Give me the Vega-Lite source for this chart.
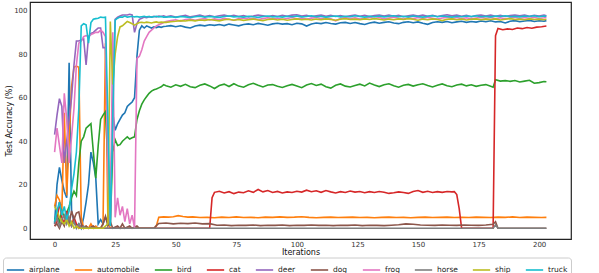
{
"$schema":"https://vega.github.io/schema/vega-lite/v6.json",
"width":541,"height":237,
"autosize":{"type":"none"},
"padding":{"left":30,"top":2,"right":28,"bottom":34},
"config":{"font":"DejaVu Sans","view":{"stroke":"#222222","strokeWidth":1.2},
"axis":{"domain":false,"ticks":false,"grid":false,"labelFontSize":7,"labelColor":"#333333","titleFontSize":8,"titleFontWeight":"normal","titleColor":"#111111"}},
"data":{"values":[
{"c":"airplane","i":0,"a":2},{"c":"airplane","i":1,"a":20},{"c":"airplane","i":2,"a":28},{"c":"airplane","i":3,"a":22},{"c":"airplane","i":4,"a":17},{"c":"airplane","i":5,"a":14},{"c":"airplane","i":6,"a":76},{"c":"airplane","i":7,"a":8},{"c":"airplane","i":8,"a":3},{"c":"airplane","i":9,"a":1},{"c":"airplane","i":10,"a":2},{"c":"airplane","i":11,"a":0},{"c":"airplane","i":12,"a":5},{"c":"airplane","i":13,"a":12},{"c":"airplane","i":14,"a":20},{"c":"airplane","i":15,"a":35},{"c":"airplane","i":16,"a":30},{"c":"airplane","i":17,"a":23},{"c":"airplane","i":18,"a":2},{"c":"airplane","i":19,"a":4},{"c":"airplane","i":20,"a":2},{"c":"airplane","i":21,"a":5},{"c":"airplane","i":22,"a":3},{"c":"airplane","i":23,"a":10},{"c":"airplane","i":24,"a":53},{"c":"airplane","i":25,"a":45},{"c":"airplane","i":26,"a":48},{"c":"airplane","i":27,"a":50},{"c":"airplane","i":28,"a":52},{"c":"airplane","i":29,"a":53},{"c":"airplane","i":30,"a":56},{"c":"airplane","i":31,"a":57},{"c":"airplane","i":32,"a":58},{"c":"airplane","i":33,"a":60},{"c":"airplane","i":34,"a":79},{"c":"airplane","i":35,"a":91},{"c":"airplane","i":36,"a":93},{"c":"airplane","i":37,"a":92},{"c":"airplane","i":38,"a":93},{"c":"airplane","i":39,"a":92.5},{"c":"airplane","i":40,"a":92},{"c":"airplane","i":41,"a":92.5},{"c":"airplane","i":42,"a":92.2},{"c":"airplane","i":43,"a":92.6},{"c":"airplane","i":44,"a":92.3},{"c":"airplane","i":45,"a":92.7},
{"c":"airplane","i":46,"a":92.8},{"c":"airplane","i":48,"a":93.1},{"c":"airplane","i":50,"a":92.6},{"c":"airplane","i":52,"a":93.0},{"c":"airplane","i":54,"a":92.4},{"c":"airplane","i":56,"a":92.0},{"c":"airplane","i":58,"a":92.9},{"c":"airplane","i":60,"a":93.3},{"c":"airplane","i":62,"a":93.0},{"c":"airplane","i":64,"a":93.5},{"c":"airplane","i":66,"a":93.2},{"c":"airplane","i":68,"a":93.6},{"c":"airplane","i":70,"a":93.1},{"c":"airplane","i":72,"a":93.8},{"c":"airplane","i":74,"a":93.4},{"c":"airplane","i":76,"a":93.0},{"c":"airplane","i":78,"a":93.6},{"c":"airplane","i":80,"a":93.9},{"c":"airplane","i":82,"a":93.5},{"c":"airplane","i":84,"a":94.1},{"c":"airplane","i":86,"a":93.7},{"c":"airplane","i":88,"a":93.3},{"c":"airplane","i":90,"a":93.9},{"c":"airplane","i":92,"a":94.2},{"c":"airplane","i":94,"a":93.8},{"c":"airplane","i":96,"a":94.0},{"c":"airplane","i":98,"a":93.5},{"c":"airplane","i":100,"a":94.2},{"c":"airplane","i":102,"a":93.9},{"c":"airplane","i":104,"a":92.9},{"c":"airplane","i":106,"a":93.8},{"c":"airplane","i":108,"a":94.3},{"c":"airplane","i":110,"a":94.0},{"c":"airplane","i":112,"a":94.5},{"c":"airplane","i":114,"a":94.1},{"c":"airplane","i":116,"a":93.8},{"c":"airplane","i":118,"a":94.4},{"c":"airplane","i":120,"a":94.6},{"c":"airplane","i":122,"a":94.1},{"c":"airplane","i":124,"a":94.5},{"c":"airplane","i":126,"a":94.0},{"c":"airplane","i":128,"a":93.6},{"c":"airplane","i":130,"a":94.3},{"c":"airplane","i":132,"a":94.7},{"c":"airplane","i":134,"a":94.2},{"c":"airplane","i":136,"a":94.6},{"c":"airplane","i":138,"a":94.9},{"c":"airplane","i":140,"a":94.3},{"c":"airplane","i":142,"a":94.0},{"c":"airplane","i":144,"a":94.6},{"c":"airplane","i":146,"a":94.9},{"c":"airplane","i":148,"a":94.4},{"c":"airplane","i":150,"a":94.8},{"c":"airplane","i":152,"a":94.2},{"c":"airplane","i":154,"a":93.7},{"c":"airplane","i":156,"a":94.5},{"c":"airplane","i":158,"a":94.9},{"c":"airplane","i":160,"a":94.6},{"c":"airplane","i":162,"a":95.0},{"c":"airplane","i":164,"a":94.4},{"c":"airplane","i":166,"a":94.8},{"c":"airplane","i":168,"a":95.1},{"c":"airplane","i":170,"a":94.6},{"c":"airplane","i":172,"a":95.0},{"c":"airplane","i":174,"a":94.7},{"c":"airplane","i":176,"a":95.2},{"c":"airplane","i":178,"a":94.9},{"c":"airplane","i":180,"a":95.3},{"c":"airplane","i":182,"a":94.8},{"c":"airplane","i":184,"a":95.0},{"c":"airplane","i":186,"a":94.3},{"c":"airplane","i":188,"a":95.1},{"c":"airplane","i":190,"a":95.4},{"c":"airplane","i":192,"a":94.9},{"c":"airplane","i":194,"a":95.2},{"c":"airplane","i":196,"a":95.5},{"c":"airplane","i":198,"a":95.0},{"c":"airplane","i":200,"a":95.3},{"c":"airplane","i":202,"a":95.1},{"c":"airplane","i":203,"a":95.4},
{"c":"automobile","i":0,"a":10},{"c":"automobile","i":1,"a":15},{"c":"automobile","i":2,"a":13},{"c":"automobile","i":3,"a":8},{"c":"automobile","i":4,"a":53},{"c":"automobile","i":5,"a":15},{"c":"automobile","i":6,"a":40},{"c":"automobile","i":7,"a":65},{"c":"automobile","i":8,"a":74},{"c":"automobile","i":9,"a":74.5},{"c":"automobile","i":10,"a":74},{"c":"automobile","i":11,"a":5},{"c":"automobile","i":12,"a":0},{"c":"automobile","i":13,"a":1},{"c":"automobile","i":14,"a":0},{"c":"automobile","i":15,"a":2},{"c":"automobile","i":16,"a":0},{"c":"automobile","i":17,"a":1},{"c":"automobile","i":18,"a":0},{"c":"automobile","i":19,"a":0},{"c":"automobile","i":20,"a":2},{"c":"automobile","i":21,"a":85},{"c":"automobile","i":22,"a":3},{"c":"automobile","i":23,"a":0},{"c":"automobile","i":41,"a":0},
{"c":"automobile","i":42,"a":1},{"c":"automobile","i":43,"a":5.0},{"c":"automobile","i":45,"a":5.2},{"c":"automobile","i":47,"a":5.1},{"c":"automobile","i":49,"a":5.3},{"c":"automobile","i":51,"a":5.8},{"c":"automobile","i":53,"a":5.4},{"c":"automobile","i":55,"a":5.1},{"c":"automobile","i":57,"a":5.2},{"c":"automobile","i":60,"a":4.9},{"c":"automobile","i":63,"a":5.0},{"c":"automobile","i":66,"a":4.8},{"c":"automobile","i":69,"a":5.1},{"c":"automobile","i":72,"a":4.9},{"c":"automobile","i":75,"a":5.2},{"c":"automobile","i":78,"a":4.9},{"c":"automobile","i":81,"a":5.0},{"c":"automobile","i":84,"a":4.8},{"c":"automobile","i":87,"a":5.1},{"c":"automobile","i":90,"a":5.0},{"c":"automobile","i":93,"a":5.2},{"c":"automobile","i":96,"a":5.0},{"c":"automobile","i":99,"a":5.1},{"c":"automobile","i":102,"a":5.3},{"c":"automobile","i":105,"a":5.0},{"c":"automobile","i":108,"a":4.8},{"c":"automobile","i":111,"a":5.0},{"c":"automobile","i":114,"a":5.1},{"c":"automobile","i":117,"a":4.9},{"c":"automobile","i":120,"a":5.0},{"c":"automobile","i":123,"a":5.1},{"c":"automobile","i":126,"a":4.9},{"c":"automobile","i":129,"a":5.0},{"c":"automobile","i":132,"a":4.8},{"c":"automobile","i":135,"a":5.0},{"c":"automobile","i":138,"a":5.1},{"c":"automobile","i":141,"a":4.9},{"c":"automobile","i":144,"a":5.0},{"c":"automobile","i":147,"a":4.8},{"c":"automobile","i":150,"a":5.0},{"c":"automobile","i":153,"a":5.1},{"c":"automobile","i":156,"a":4.9},{"c":"automobile","i":159,"a":5.0},{"c":"automobile","i":162,"a":5.1},{"c":"automobile","i":165,"a":4.9},{"c":"automobile","i":168,"a":5.0},{"c":"automobile","i":171,"a":4.9},{"c":"automobile","i":174,"a":5.1},{"c":"automobile","i":177,"a":5.0},{"c":"automobile","i":180,"a":4.9},{"c":"automobile","i":183,"a":5.1},{"c":"automobile","i":186,"a":5.0},{"c":"automobile","i":189,"a":5.2},{"c":"automobile","i":192,"a":4.9},{"c":"automobile","i":195,"a":5.1},{"c":"automobile","i":198,"a":5.0},{"c":"automobile","i":201,"a":4.9},{"c":"automobile","i":203,"a":5.0},
{"c":"bird","i":0,"a":4},{"c":"bird","i":1,"a":6},{"c":"bird","i":2,"a":3},{"c":"bird","i":3,"a":8},{"c":"bird","i":4,"a":5},{"c":"bird","i":5,"a":7},{"c":"bird","i":6,"a":10},{"c":"bird","i":7,"a":14},{"c":"bird","i":8,"a":17},{"c":"bird","i":9,"a":15},{"c":"bird","i":10,"a":30},{"c":"bird","i":11,"a":40},{"c":"bird","i":12,"a":42},{"c":"bird","i":13,"a":46},{"c":"bird","i":14,"a":47},{"c":"bird","i":15,"a":48},{"c":"bird","i":16,"a":35},{"c":"bird","i":17,"a":23},{"c":"bird","i":18,"a":38},{"c":"bird","i":19,"a":50},{"c":"bird","i":20,"a":52},{"c":"bird","i":21,"a":53.6},{"c":"bird","i":22,"a":30},{"c":"bird","i":23,"a":2},{"c":"bird","i":24,"a":35},{"c":"bird","i":25,"a":40.7},{"c":"bird","i":26,"a":38},{"c":"bird","i":27,"a":38.4},{"c":"bird","i":28,"a":40},{"c":"bird","i":29,"a":41},{"c":"bird","i":30,"a":42},{"c":"bird","i":31,"a":41},{"c":"bird","i":32,"a":41.6},{"c":"bird","i":33,"a":42},{"c":"bird","i":34,"a":50},{"c":"bird","i":35,"a":54},{"c":"bird","i":36,"a":57},{"c":"bird","i":37,"a":59},{"c":"bird","i":38,"a":60.5},{"c":"bird","i":39,"a":62},{"c":"bird","i":40,"a":63},{"c":"bird","i":41,"a":63.6},{"c":"bird","i":42,"a":64},{"c":"bird","i":43,"a":64.5},{"c":"bird","i":44,"a":65},{"c":"bird","i":45,"a":66},
{"c":"bird","i":46,"a":65.5},{"c":"bird","i":48,"a":64.8},{"c":"bird","i":50,"a":65.9},{"c":"bird","i":52,"a":65.2},{"c":"bird","i":54,"a":66.1},{"c":"bird","i":56,"a":65.0},{"c":"bird","i":58,"a":64.6},{"c":"bird","i":60,"a":65.7},{"c":"bird","i":62,"a":66.3},{"c":"bird","i":64,"a":65.4},{"c":"bird","i":66,"a":64.2},{"c":"bird","i":68,"a":65.6},{"c":"bird","i":70,"a":66.2},{"c":"bird","i":72,"a":65.1},{"c":"bird","i":74,"a":66.4},{"c":"bird","i":76,"a":65.3},{"c":"bird","i":78,"a":64.8},{"c":"bird","i":80,"a":65.9},{"c":"bird","i":82,"a":66.6},{"c":"bird","i":84,"a":65.7},{"c":"bird","i":86,"a":64.9},{"c":"bird","i":88,"a":65.8},{"c":"bird","i":90,"a":66.0},{"c":"bird","i":92,"a":65.2},{"c":"bird","i":94,"a":64.7},{"c":"bird","i":96,"a":65.5},{"c":"bird","i":98,"a":66.1},{"c":"bird","i":100,"a":65.4},{"c":"bird","i":102,"a":64.6},{"c":"bird","i":104,"a":65.8},{"c":"bird","i":106,"a":66.5},{"c":"bird","i":108,"a":65.6},{"c":"bird","i":110,"a":66.2},{"c":"bird","i":112,"a":65.0},{"c":"bird","i":114,"a":64.4},{"c":"bird","i":116,"a":65.7},{"c":"bird","i":118,"a":66.3},{"c":"bird","i":120,"a":65.3},{"c":"bird","i":122,"a":64.9},{"c":"bird","i":124,"a":65.6},{"c":"bird","i":126,"a":66.2},{"c":"bird","i":128,"a":65.4},{"c":"bird","i":130,"a":66.7},{"c":"bird","i":132,"a":65.8},{"c":"bird","i":134,"a":65.1},{"c":"bird","i":136,"a":65.9},{"c":"bird","i":138,"a":66.4},{"c":"bird","i":140,"a":65.5},{"c":"bird","i":142,"a":64.8},{"c":"bird","i":144,"a":65.7},{"c":"bird","i":146,"a":66.1},{"c":"bird","i":148,"a":65.3},{"c":"bird","i":150,"a":65.9},{"c":"bird","i":152,"a":66.4},{"c":"bird","i":154,"a":65.6},{"c":"bird","i":156,"a":64.9},{"c":"bird","i":158,"a":65.7},{"c":"bird","i":160,"a":66.3},{"c":"bird","i":162,"a":65.5},{"c":"bird","i":164,"a":65.0},{"c":"bird","i":166,"a":65.8},{"c":"bird","i":168,"a":66.2},{"c":"bird","i":170,"a":65.4},{"c":"bird","i":172,"a":65.9},{"c":"bird","i":174,"a":65.2},{"c":"bird","i":176,"a":65.7},{"c":"bird","i":178,"a":66.0},{"c":"bird","i":180,"a":65.2},{"c":"bird","i":181,"a":64.8},{"c":"bird","i":182,"a":68.2},{"c":"bird","i":184,"a":67.6},{"c":"bird","i":186,"a":67.8},{"c":"bird","i":188,"a":67.5},{"c":"bird","i":190,"a":67.9},{"c":"bird","i":192,"a":67.2},{"c":"bird","i":194,"a":67.6},{"c":"bird","i":196,"a":68.0},{"c":"bird","i":198,"a":66.6},{"c":"bird","i":200,"a":66.9},{"c":"bird","i":202,"a":67.4},{"c":"bird","i":203,"a":67.3},
{"c":"cat","i":0,"a":1},{"c":"cat","i":1,"a":3},{"c":"cat","i":2,"a":12},{"c":"cat","i":3,"a":5},{"c":"cat","i":4,"a":2},{"c":"cat","i":5,"a":8},{"c":"cat","i":6,"a":3},{"c":"cat","i":7,"a":1},{"c":"cat","i":8,"a":5},{"c":"cat","i":9,"a":2},{"c":"cat","i":10,"a":0},{"c":"cat","i":11,"a":1},{"c":"cat","i":12,"a":0},{"c":"cat","i":64,"a":0},
{"c":"cat","i":65,"a":14},{"c":"cat","i":66,"a":16.5},{"c":"cat","i":68,"a":17.0},{"c":"cat","i":70,"a":16.2},{"c":"cat","i":72,"a":16.8},{"c":"cat","i":74,"a":15.9},{"c":"cat","i":76,"a":16.6},{"c":"cat","i":78,"a":16.3},{"c":"cat","i":80,"a":17.2},{"c":"cat","i":82,"a":16.5},{"c":"cat","i":84,"a":17.8},{"c":"cat","i":86,"a":16.7},{"c":"cat","i":88,"a":17.3},{"c":"cat","i":90,"a":16.4},{"c":"cat","i":92,"a":16.9},{"c":"cat","i":94,"a":16.2},{"c":"cat","i":96,"a":16.7},{"c":"cat","i":98,"a":16.4},{"c":"cat","i":100,"a":17.0},{"c":"cat","i":102,"a":16.6},{"c":"cat","i":104,"a":17.5},{"c":"cat","i":106,"a":16.8},{"c":"cat","i":108,"a":17.2},{"c":"cat","i":110,"a":16.5},{"c":"cat","i":112,"a":17.3},{"c":"cat","i":114,"a":16.7},{"c":"cat","i":116,"a":16.2},{"c":"cat","i":118,"a":16.8},{"c":"cat","i":120,"a":16.4},{"c":"cat","i":122,"a":17.1},{"c":"cat","i":124,"a":16.6},{"c":"cat","i":126,"a":16.9},{"c":"cat","i":128,"a":16.3},{"c":"cat","i":130,"a":16.8},{"c":"cat","i":132,"a":16.4},{"c":"cat","i":134,"a":16.9},{"c":"cat","i":136,"a":16.5},{"c":"cat","i":138,"a":16.0},{"c":"cat","i":140,"a":16.3},{"c":"cat","i":142,"a":16.7},{"c":"cat","i":144,"a":16.4},{"c":"cat","i":146,"a":16.0},{"c":"cat","i":148,"a":16.9},{"c":"cat","i":150,"a":17.3},{"c":"cat","i":152,"a":16.5},{"c":"cat","i":154,"a":17.0},{"c":"cat","i":156,"a":16.4},{"c":"cat","i":158,"a":16.8},{"c":"cat","i":160,"a":16.5},{"c":"cat","i":162,"a":16.9},{"c":"cat","i":164,"a":16.7},{"c":"cat","i":165,"a":16.8},{"c":"cat","i":166,"a":15.5},{"c":"cat","i":167,"a":9.0},{"c":"cat","i":168,"a":0},{"c":"cat","i":181,"a":0},{"c":"cat","i":182,"a":88.5},{"c":"cat","i":183,"a":91.8},{"c":"cat","i":185,"a":91.2},{"c":"cat","i":187,"a":91.6},{"c":"cat","i":189,"a":91.3},{"c":"cat","i":191,"a":92.0},{"c":"cat","i":193,"a":91.7},{"c":"cat","i":195,"a":92.2},{"c":"cat","i":197,"a":91.9},{"c":"cat","i":199,"a":92.4},{"c":"cat","i":201,"a":92.6},{"c":"cat","i":203,"a":92.9},
{"c":"deer","i":0,"a":43},{"c":"deer","i":1,"a":52},{"c":"deer","i":2,"a":59.5},{"c":"deer","i":3,"a":56},{"c":"deer","i":4,"a":30},{"c":"deer","i":5,"a":40},{"c":"deer","i":6,"a":50},{"c":"deer","i":7,"a":60},{"c":"deer","i":8,"a":75},{"c":"deer","i":9,"a":86},{"c":"deer","i":10,"a":86},{"c":"deer","i":11,"a":86.5},{"c":"deer","i":12,"a":87},{"c":"deer","i":13,"a":75},{"c":"deer","i":14,"a":88},{"c":"deer","i":15,"a":89.5},{"c":"deer","i":16,"a":90},{"c":"deer","i":17,"a":91},{"c":"deer","i":18,"a":92},{"c":"deer","i":19,"a":92},{"c":"deer","i":20,"a":83},{"c":"deer","i":21,"a":83},{"c":"deer","i":22,"a":40},{"c":"deer","i":23,"a":2},{"c":"deer","i":24,"a":60},{"c":"deer","i":25,"a":96},{"c":"deer","i":26,"a":97},{"c":"deer","i":27,"a":97.5},{"c":"deer","i":28,"a":98},{"c":"deer","i":29,"a":98},{"c":"deer","i":30,"a":98},{"c":"deer","i":31,"a":98.3},{"c":"deer","i":32,"a":98},{"c":"deer","i":33,"a":90},{"c":"deer","i":34,"a":94},{"c":"deer","i":35,"a":96},{"c":"deer","i":36,"a":96.5},{"c":"deer","i":37,"a":97},{"c":"deer","i":38,"a":96.8},{"c":"deer","i":39,"a":97.2},{"c":"deer","i":40,"a":97.0},{"c":"deer","i":41,"a":97.4},{"c":"deer","i":42,"a":97.1},{"c":"deer","i":43,"a":97.5},{"c":"deer","i":44,"a":97.3},{"c":"deer","i":45,"a":97.6},
{"c":"deer","i":46,"a":97.2},{"c":"deer","i":48,"a":97.6},{"c":"deer","i":50,"a":97.0},{"c":"deer","i":52,"a":97.4},{"c":"deer","i":54,"a":97.8},{"c":"deer","i":56,"a":97.1},{"c":"deer","i":58,"a":97.5},{"c":"deer","i":60,"a":97.9},{"c":"deer","i":62,"a":97.3},{"c":"deer","i":64,"a":97.7},{"c":"deer","i":66,"a":97.2},{"c":"deer","i":68,"a":97.6},{"c":"deer","i":70,"a":98.0},{"c":"deer","i":72,"a":97.4},{"c":"deer","i":74,"a":97.8},{"c":"deer","i":76,"a":97.3},{"c":"deer","i":78,"a":97.7},{"c":"deer","i":80,"a":97.1},{"c":"deer","i":82,"a":97.5},{"c":"deer","i":84,"a":98.0},{"c":"deer","i":86,"a":97.6},{"c":"deer","i":88,"a":97.2},{"c":"deer","i":90,"a":97.7},{"c":"deer","i":92,"a":97.3},{"c":"deer","i":94,"a":97.8},{"c":"deer","i":96,"a":97.4},{"c":"deer","i":98,"a":97.9},{"c":"deer","i":100,"a":98.1},{"c":"deer","i":102,"a":97.5},{"c":"deer","i":104,"a":97.8},{"c":"deer","i":106,"a":97.2},{"c":"deer","i":108,"a":97.6},{"c":"deer","i":110,"a":98.0},{"c":"deer","i":112,"a":97.4},{"c":"deer","i":114,"a":97.8},{"c":"deer","i":116,"a":97.3},{"c":"deer","i":118,"a":97.7},{"c":"deer","i":120,"a":97.2},{"c":"deer","i":122,"a":97.6},{"c":"deer","i":124,"a":97.9},{"c":"deer","i":126,"a":97.4},{"c":"deer","i":128,"a":97.8},{"c":"deer","i":130,"a":97.3},{"c":"deer","i":132,"a":97.7},{"c":"deer","i":134,"a":98.0},{"c":"deer","i":136,"a":97.5},{"c":"deer","i":138,"a":97.9},{"c":"deer","i":140,"a":97.4},{"c":"deer","i":142,"a":97.8},{"c":"deer","i":144,"a":97.2},{"c":"deer","i":146,"a":97.6},{"c":"deer","i":148,"a":98.0},{"c":"deer","i":150,"a":97.5},{"c":"deer","i":152,"a":97.9},{"c":"deer","i":154,"a":97.4},{"c":"deer","i":156,"a":97.8},{"c":"deer","i":158,"a":97.3},{"c":"deer","i":160,"a":97.7},{"c":"deer","i":162,"a":98.1},{"c":"deer","i":164,"a":97.6},{"c":"deer","i":166,"a":97.9},{"c":"deer","i":168,"a":97.4},{"c":"deer","i":170,"a":97.8},{"c":"deer","i":172,"a":97.2},{"c":"deer","i":174,"a":97.7},{"c":"deer","i":176,"a":98.0},{"c":"deer","i":178,"a":97.5},{"c":"deer","i":180,"a":97.9},{"c":"deer","i":182,"a":97.4},{"c":"deer","i":184,"a":97.8},{"c":"deer","i":186,"a":97.3},{"c":"deer","i":188,"a":97.7},{"c":"deer","i":190,"a":98.0},{"c":"deer","i":192,"a":97.6},{"c":"deer","i":194,"a":97.9},{"c":"deer","i":196,"a":97.4},{"c":"deer","i":198,"a":97.8},{"c":"deer","i":200,"a":97.5},{"c":"deer","i":202,"a":97.9},{"c":"deer","i":203,"a":97.6},
{"c":"dog","i":0,"a":1},{"c":"dog","i":1,"a":2},{"c":"dog","i":2,"a":0},{"c":"dog","i":3,"a":3},{"c":"dog","i":4,"a":1},{"c":"dog","i":5,"a":6},{"c":"dog","i":6,"a":2},{"c":"dog","i":7,"a":8},{"c":"dog","i":8,"a":4},{"c":"dog","i":9,"a":7},{"c":"dog","i":10,"a":7.5},{"c":"dog","i":11,"a":2},{"c":"dog","i":12,"a":0},{"c":"dog","i":13,"a":1},{"c":"dog","i":14,"a":0},{"c":"dog","i":16,"a":1},{"c":"dog","i":17,"a":0},{"c":"dog","i":19,"a":0},{"c":"dog","i":20,"a":2},{"c":"dog","i":21,"a":5.5},{"c":"dog","i":22,"a":1},{"c":"dog","i":23,"a":3},{"c":"dog","i":24,"a":0},{"c":"dog","i":26,"a":1},{"c":"dog","i":27,"a":0},{"c":"dog","i":28,"a":2},{"c":"dog","i":29,"a":0},{"c":"dog","i":31,"a":1},{"c":"dog","i":32,"a":0},{"c":"dog","i":34,"a":1},{"c":"dog","i":35,"a":0},{"c":"dog","i":41,"a":0},
{"c":"dog","i":42,"a":1.2},{"c":"dog","i":43,"a":2.2},{"c":"dog","i":46,"a":2.4},{"c":"dog","i":49,"a":2.0},{"c":"dog","i":52,"a":2.3},{"c":"dog","i":55,"a":2.1},{"c":"dog","i":58,"a":2.4},{"c":"dog","i":61,"a":2.0},{"c":"dog","i":64,"a":2.1},{"c":"dog","i":67,"a":1.4},{"c":"dog","i":70,"a":1.5},{"c":"dog","i":73,"a":1.2},{"c":"dog","i":76,"a":1.4},{"c":"dog","i":79,"a":1.3},{"c":"dog","i":82,"a":1.5},{"c":"dog","i":85,"a":1.2},{"c":"dog","i":88,"a":1.4},{"c":"dog","i":91,"a":1.3},{"c":"dog","i":94,"a":1.5},{"c":"dog","i":97,"a":1.2},{"c":"dog","i":100,"a":1.4},{"c":"dog","i":103,"a":1.3},{"c":"dog","i":106,"a":1.5},{"c":"dog","i":109,"a":1.3},{"c":"dog","i":112,"a":1.4},{"c":"dog","i":115,"a":1.2},{"c":"dog","i":118,"a":1.4},{"c":"dog","i":121,"a":1.3},{"c":"dog","i":124,"a":1.5},{"c":"dog","i":127,"a":1.2},{"c":"dog","i":130,"a":1.4},{"c":"dog","i":133,"a":1.3},{"c":"dog","i":136,"a":1.2},{"c":"dog","i":139,"a":1.4},{"c":"dog","i":142,"a":1.6},{"c":"dog","i":145,"a":2.0},{"c":"dog","i":148,"a":1.8},{"c":"dog","i":151,"a":1.5},{"c":"dog","i":154,"a":1.4},{"c":"dog","i":157,"a":1.3},{"c":"dog","i":160,"a":1.5},{"c":"dog","i":163,"a":1.4},{"c":"dog","i":166,"a":1.3},{"c":"dog","i":169,"a":1.5},{"c":"dog","i":172,"a":1.4},{"c":"dog","i":175,"a":1.3},{"c":"dog","i":178,"a":1.5},{"c":"dog","i":181,"a":1.8},{"c":"dog","i":182,"a":3.0},{"c":"dog","i":183,"a":0},{"c":"dog","i":203,"a":0},
{"c":"frog","i":0,"a":35},{"c":"frog","i":1,"a":46},{"c":"frog","i":2,"a":38},{"c":"frog","i":3,"a":30},{"c":"frog","i":4,"a":62},{"c":"frog","i":5,"a":50},{"c":"frog","i":6,"a":30},{"c":"frog","i":7,"a":42},{"c":"frog","i":8,"a":55},{"c":"frog","i":9,"a":75},{"c":"frog","i":10,"a":85},{"c":"frog","i":11,"a":86},{"c":"frog","i":12,"a":88},{"c":"frog","i":13,"a":88.5},{"c":"frog","i":14,"a":88},{"c":"frog","i":15,"a":89},{"c":"frog","i":16,"a":89.5},{"c":"frog","i":17,"a":90},{"c":"frog","i":18,"a":90},{"c":"frog","i":19,"a":91},{"c":"frog","i":20,"a":90},{"c":"frog","i":21,"a":88},{"c":"frog","i":22,"a":20},{"c":"frog","i":23,"a":2},{"c":"frog","i":24,"a":90},{"c":"frog","i":25,"a":5},{"c":"frog","i":26,"a":14},{"c":"frog","i":27,"a":6},{"c":"frog","i":28,"a":10},{"c":"frog","i":29,"a":3},{"c":"frog","i":30,"a":9},{"c":"frog","i":31,"a":2},{"c":"frog","i":32,"a":6},{"c":"frog","i":33,"a":0},{"c":"frog","i":34,"a":78},{"c":"frog","i":35,"a":79},{"c":"frog","i":36,"a":82},{"c":"frog","i":37,"a":86},{"c":"frog","i":38,"a":88},{"c":"frog","i":39,"a":90},{"c":"frog","i":40,"a":91},{"c":"frog","i":41,"a":92},{"c":"frog","i":42,"a":93},{"c":"frog","i":43,"a":93.5},{"c":"frog","i":44,"a":94},{"c":"frog","i":45,"a":94.5},
{"c":"frog","i":46,"a":95.0},{"c":"frog","i":48,"a":95.4},{"c":"frog","i":50,"a":95.8},{"c":"frog","i":52,"a":95.2},{"c":"frog","i":54,"a":95.9},{"c":"frog","i":56,"a":96.1},{"c":"frog","i":58,"a":95.5},{"c":"frog","i":60,"a":96.0},{"c":"frog","i":62,"a":96.3},{"c":"frog","i":64,"a":95.7},{"c":"frog","i":66,"a":96.2},{"c":"frog","i":68,"a":95.8},{"c":"frog","i":70,"a":96.4},{"c":"frog","i":72,"a":96.0},{"c":"frog","i":74,"a":95.6},{"c":"frog","i":76,"a":96.3},{"c":"frog","i":78,"a":96.6},{"c":"frog","i":80,"a":96.1},{"c":"frog","i":82,"a":96.5},{"c":"frog","i":84,"a":95.9},{"c":"frog","i":86,"a":96.3},{"c":"frog","i":88,"a":96.7},{"c":"frog","i":90,"a":96.2},{"c":"frog","i":92,"a":96.5},{"c":"frog","i":94,"a":96.0},{"c":"frog","i":96,"a":96.4},{"c":"frog","i":98,"a":96.8},{"c":"frog","i":100,"a":96.2},{"c":"frog","i":102,"a":96.6},{"c":"frog","i":104,"a":96.1},{"c":"frog","i":106,"a":96.5},{"c":"frog","i":108,"a":96.9},{"c":"frog","i":110,"a":96.3},{"c":"frog","i":112,"a":96.7},{"c":"frog","i":114,"a":96.2},{"c":"frog","i":116,"a":95.3},{"c":"frog","i":118,"a":96.4},{"c":"frog","i":120,"a":96.8},{"c":"frog","i":122,"a":96.3},{"c":"frog","i":124,"a":96.7},{"c":"frog","i":126,"a":96.1},{"c":"frog","i":128,"a":96.5},{"c":"frog","i":130,"a":96.9},{"c":"frog","i":132,"a":96.4},{"c":"frog","i":134,"a":96.8},{"c":"frog","i":136,"a":96.2},{"c":"frog","i":138,"a":96.6},{"c":"frog","i":140,"a":97.0},{"c":"frog","i":142,"a":96.5},{"c":"frog","i":144,"a":96.1},{"c":"frog","i":146,"a":96.7},{"c":"frog","i":148,"a":96.3},{"c":"frog","i":150,"a":96.8},{"c":"frog","i":152,"a":96.4},{"c":"frog","i":154,"a":96.9},{"c":"frog","i":156,"a":96.5},{"c":"frog","i":158,"a":96.1},{"c":"frog","i":160,"a":96.6},{"c":"frog","i":162,"a":96.9},{"c":"frog","i":164,"a":96.4},{"c":"frog","i":166,"a":96.8},{"c":"frog","i":168,"a":96.3},{"c":"frog","i":170,"a":96.7},{"c":"frog","i":172,"a":96.2},{"c":"frog","i":174,"a":96.6},{"c":"frog","i":176,"a":96.9},{"c":"frog","i":178,"a":96.5},{"c":"frog","i":180,"a":96.8},{"c":"frog","i":182,"a":96.3},{"c":"frog","i":184,"a":96.7},{"c":"frog","i":186,"a":96.2},{"c":"frog","i":188,"a":96.6},{"c":"frog","i":190,"a":96.9},{"c":"frog","i":192,"a":96.4},{"c":"frog","i":194,"a":96.8},{"c":"frog","i":196,"a":96.5},{"c":"frog","i":198,"a":96.9},{"c":"frog","i":200,"a":96.4},{"c":"frog","i":202,"a":96.7},{"c":"frog","i":203,"a":96.9},
{"c":"horse","i":0,"a":2},{"c":"horse","i":1,"a":5},{"c":"horse","i":2,"a":1},{"c":"horse","i":3,"a":4},{"c":"horse","i":4,"a":6},{"c":"horse","i":5,"a":2},{"c":"horse","i":6,"a":5},{"c":"horse","i":7,"a":1},{"c":"horse","i":8,"a":3},{"c":"horse","i":9,"a":0},{"c":"horse","i":10,"a":2},{"c":"horse","i":11,"a":0},{"c":"horse","i":12,"a":1},{"c":"horse","i":13,"a":0},{"c":"horse","i":181,"a":0},{"c":"horse","i":182,"a":1.5},{"c":"horse","i":183,"a":0},{"c":"horse","i":203,"a":0},
{"c":"ship","i":0,"a":10},{"c":"ship","i":1,"a":8},{"c":"ship","i":2,"a":5},{"c":"ship","i":3,"a":3},{"c":"ship","i":4,"a":2},{"c":"ship","i":5,"a":4},{"c":"ship","i":6,"a":1},{"c":"ship","i":7,"a":3},{"c":"ship","i":8,"a":0},{"c":"ship","i":9,"a":1},{"c":"ship","i":10,"a":0},{"c":"ship","i":20,"a":0},{"c":"ship","i":21,"a":1},{"c":"ship","i":22,"a":2},{"c":"ship","i":23,"a":95},{"c":"ship","i":24,"a":66},{"c":"ship","i":25,"a":80},{"c":"ship","i":26,"a":88},{"c":"ship","i":27,"a":92.5},{"c":"ship","i":28,"a":93},{"c":"ship","i":29,"a":94},{"c":"ship","i":30,"a":95},{"c":"ship","i":31,"a":94.5},{"c":"ship","i":32,"a":94},{"c":"ship","i":33,"a":93.3},{"c":"ship","i":34,"a":94},{"c":"ship","i":35,"a":94.5},{"c":"ship","i":36,"a":94.6},{"c":"ship","i":37,"a":94.4},{"c":"ship","i":38,"a":94.7},{"c":"ship","i":39,"a":94.5},{"c":"ship","i":40,"a":94.3},{"c":"ship","i":41,"a":94.6},{"c":"ship","i":42,"a":94.8},{"c":"ship","i":43,"a":94.5},{"c":"ship","i":44,"a":94.7},{"c":"ship","i":45,"a":94.6},
{"c":"ship","i":46,"a":94.6},{"c":"ship","i":48,"a":94.9},{"c":"ship","i":50,"a":95.1},{"c":"ship","i":52,"a":95.4},{"c":"ship","i":54,"a":95.2},{"c":"ship","i":56,"a":95.6},{"c":"ship","i":58,"a":95.3},{"c":"ship","i":60,"a":95.7},{"c":"ship","i":62,"a":95.5},{"c":"ship","i":64,"a":95.9},{"c":"ship","i":66,"a":95.6},{"c":"ship","i":68,"a":95.3},{"c":"ship","i":70,"a":95.8},{"c":"ship","i":72,"a":96.0},{"c":"ship","i":74,"a":95.6},{"c":"ship","i":76,"a":95.9},{"c":"ship","i":78,"a":95.5},{"c":"ship","i":80,"a":95.8},{"c":"ship","i":82,"a":96.1},{"c":"ship","i":84,"a":95.7},{"c":"ship","i":86,"a":95.4},{"c":"ship","i":88,"a":95.9},{"c":"ship","i":90,"a":96.1},{"c":"ship","i":92,"a":95.7},{"c":"ship","i":94,"a":96.0},{"c":"ship","i":96,"a":95.6},{"c":"ship","i":98,"a":95.9},{"c":"ship","i":100,"a":96.2},{"c":"ship","i":102,"a":95.8},{"c":"ship","i":104,"a":96.0},{"c":"ship","i":106,"a":95.7},{"c":"ship","i":108,"a":96.1},{"c":"ship","i":110,"a":95.8},{"c":"ship","i":112,"a":96.2},{"c":"ship","i":114,"a":95.9},{"c":"ship","i":116,"a":95.6},{"c":"ship","i":118,"a":96.0},{"c":"ship","i":120,"a":96.3},{"c":"ship","i":122,"a":95.9},{"c":"ship","i":124,"a":96.1},{"c":"ship","i":126,"a":95.8},{"c":"ship","i":128,"a":96.2},{"c":"ship","i":130,"a":95.9},{"c":"ship","i":132,"a":96.3},{"c":"ship","i":134,"a":96.0},{"c":"ship","i":136,"a":95.7},{"c":"ship","i":138,"a":96.1},{"c":"ship","i":140,"a":95.8},{"c":"ship","i":142,"a":96.2},{"c":"ship","i":144,"a":95.9},{"c":"ship","i":146,"a":96.3},{"c":"ship","i":148,"a":96.0},{"c":"ship","i":150,"a":95.6},{"c":"ship","i":152,"a":96.1},{"c":"ship","i":154,"a":95.8},{"c":"ship","i":156,"a":96.2},{"c":"ship","i":158,"a":95.9},{"c":"ship","i":160,"a":95.4},{"c":"ship","i":162,"a":96.0},{"c":"ship","i":164,"a":96.2},{"c":"ship","i":166,"a":95.8},{"c":"ship","i":168,"a":96.1},{"c":"ship","i":170,"a":95.7},{"c":"ship","i":172,"a":96.0},{"c":"ship","i":174,"a":96.2},{"c":"ship","i":176,"a":95.8},{"c":"ship","i":178,"a":96.1},{"c":"ship","i":180,"a":95.9},{"c":"ship","i":182,"a":96.2},{"c":"ship","i":184,"a":95.7},{"c":"ship","i":186,"a":96.0},{"c":"ship","i":188,"a":96.3},{"c":"ship","i":190,"a":95.9},{"c":"ship","i":192,"a":96.1},{"c":"ship","i":194,"a":95.8},{"c":"ship","i":196,"a":96.2},{"c":"ship","i":198,"a":95.9},{"c":"ship","i":200,"a":96.1},{"c":"ship","i":202,"a":95.8},{"c":"ship","i":203,"a":96.0},
{"c":"truck","i":0,"a":3},{"c":"truck","i":1,"a":8},{"c":"truck","i":2,"a":12},{"c":"truck","i":3,"a":6},{"c":"truck","i":4,"a":10},{"c":"truck","i":5,"a":4},{"c":"truck","i":6,"a":8},{"c":"truck","i":7,"a":18},{"c":"truck","i":8,"a":25},{"c":"truck","i":9,"a":35},{"c":"truck","i":10,"a":55},{"c":"truck","i":11,"a":93},{"c":"truck","i":12,"a":94},{"c":"truck","i":13,"a":93.5},{"c":"truck","i":14,"a":85},{"c":"truck","i":15,"a":94.5},{"c":"truck","i":16,"a":96},{"c":"truck","i":17,"a":96.3},{"c":"truck","i":18,"a":96.5},{"c":"truck","i":19,"a":97},{"c":"truck","i":20,"a":96.8},{"c":"truck","i":21,"a":97},{"c":"truck","i":22,"a":50},{"c":"truck","i":23,"a":1},{"c":"truck","i":24,"a":50},{"c":"truck","i":25,"a":95.6},{"c":"truck","i":26,"a":96.5},{"c":"truck","i":27,"a":97},{"c":"truck","i":28,"a":97},{"c":"truck","i":29,"a":97.5},{"c":"truck","i":30,"a":97},{"c":"truck","i":31,"a":97.2},{"c":"truck","i":32,"a":97.4},{"c":"truck","i":33,"a":97.1},{"c":"truck","i":34,"a":97.3},{"c":"truck","i":35,"a":97.0},{"c":"truck","i":36,"a":97.2},{"c":"truck","i":37,"a":97.4},{"c":"truck","i":38,"a":97.1},{"c":"truck","i":39,"a":97.3},{"c":"truck","i":40,"a":97.0},{"c":"truck","i":41,"a":97.2},{"c":"truck","i":42,"a":97.4},{"c":"truck","i":43,"a":97.1},{"c":"truck","i":44,"a":97.3},{"c":"truck","i":45,"a":97.0},
{"c":"truck","i":46,"a":97.0},{"c":"truck","i":48,"a":97.2},{"c":"truck","i":50,"a":96.9},{"c":"truck","i":52,"a":97.3},{"c":"truck","i":54,"a":97.1},{"c":"truck","i":56,"a":96.8},{"c":"truck","i":58,"a":97.2},{"c":"truck","i":60,"a":97.4},{"c":"truck","i":62,"a":97.0},{"c":"truck","i":64,"a":97.3},{"c":"truck","i":66,"a":97.1},{"c":"truck","i":68,"a":96.9},{"c":"truck","i":70,"a":97.3},{"c":"truck","i":72,"a":97.5},{"c":"truck","i":74,"a":97.1},{"c":"truck","i":76,"a":97.3},{"c":"truck","i":78,"a":97.0},{"c":"truck","i":80,"a":97.4},{"c":"truck","i":82,"a":97.2},{"c":"truck","i":84,"a":96.9},{"c":"truck","i":86,"a":97.3},{"c":"truck","i":88,"a":97.5},{"c":"truck","i":90,"a":97.1},{"c":"truck","i":92,"a":97.3},{"c":"truck","i":94,"a":97.0},{"c":"truck","i":96,"a":97.4},{"c":"truck","i":98,"a":97.2},{"c":"truck","i":100,"a":97.5},{"c":"truck","i":102,"a":97.1},{"c":"truck","i":104,"a":97.3},{"c":"truck","i":106,"a":97.6},{"c":"truck","i":108,"a":97.2},{"c":"truck","i":110,"a":97.4},{"c":"truck","i":112,"a":97.0},{"c":"truck","i":114,"a":97.3},{"c":"truck","i":116,"a":97.5},{"c":"truck","i":118,"a":97.1},{"c":"truck","i":120,"a":97.4},{"c":"truck","i":122,"a":97.2},{"c":"truck","i":124,"a":97.6},{"c":"truck","i":126,"a":97.3},{"c":"truck","i":128,"a":97.0},{"c":"truck","i":130,"a":97.4},{"c":"truck","i":132,"a":97.2},{"c":"truck","i":134,"a":97.5},{"c":"truck","i":136,"a":97.1},{"c":"truck","i":138,"a":97.4},{"c":"truck","i":140,"a":97.6},{"c":"truck","i":142,"a":97.2},{"c":"truck","i":144,"a":97.4},{"c":"truck","i":146,"a":97.1},{"c":"truck","i":148,"a":97.5},{"c":"truck","i":150,"a":97.3},{"c":"truck","i":152,"a":97.0},{"c":"truck","i":154,"a":97.4},{"c":"truck","i":156,"a":97.6},{"c":"truck","i":158,"a":97.2},{"c":"truck","i":160,"a":97.5},{"c":"truck","i":162,"a":97.3},{"c":"truck","i":164,"a":97.0},{"c":"truck","i":166,"a":97.4},{"c":"truck","i":168,"a":97.2},{"c":"truck","i":170,"a":97.5},{"c":"truck","i":172,"a":97.3},{"c":"truck","i":174,"a":97.6},{"c":"truck","i":176,"a":97.2},{"c":"truck","i":178,"a":97.4},{"c":"truck","i":180,"a":97.1},{"c":"truck","i":182,"a":97.5},{"c":"truck","i":184,"a":97.3},{"c":"truck","i":186,"a":97.6},{"c":"truck","i":188,"a":97.2},{"c":"truck","i":190,"a":97.4},{"c":"truck","i":192,"a":97.1},{"c":"truck","i":194,"a":97.5},{"c":"truck","i":196,"a":97.3},{"c":"truck","i":198,"a":97.6},{"c":"truck","i":200,"a":97.2},{"c":"truck","i":202,"a":97.5},{"c":"truck","i":203,"a":97.4}
]},
"mark":{"type":"line","strokeWidth":1.6,"clip":true},
"encoding":{
"x":{"field":"i","type":"quantitative","title":"Iterations","scale":{"domain":[-10.15,213.15],"nice":false,"zero":false},"axis":{"values":[0,25,50,75,100,125,150,175,200],"labelPadding":1,"titlePadding":1.5,"labelFlush":false}},
"y":{"field":"a","type":"quantitative","title":"Test Accuracy (%)","scale":{"domain":[-4.95,103.95],"nice":false,"zero":false},"axis":{"values":[0,20,40,60,80,100],"labelPadding":3,"titlePadding":0}},
"color":{"field":"c","type":"nominal","scale":{"domain":["airplane","automobile","bird","cat","deer","dog","frog","horse","ship","truck"],"range":["#1f77b4","#ff7f0e","#2ca02c","#d62728","#9467bd","#8c564b","#e377c2","#7f7f7f","#bcbd22","#17becf"]},
"legend":{"title":null,"orient":"none","legendX":-27,"legendY":255.5,"direction":"horizontal","columns":10,"symbolType":"stroke","symbolSize":300,"symbolStrokeWidth":1.6,"labelFontSize":7.5,"labelColor":"#222222","labelOffset":4,"columnPadding":11,"padding":3,"strokeColor":"#cccccc","cornerRadius":3,"fillColor":"#ffffff"}}
}
}
